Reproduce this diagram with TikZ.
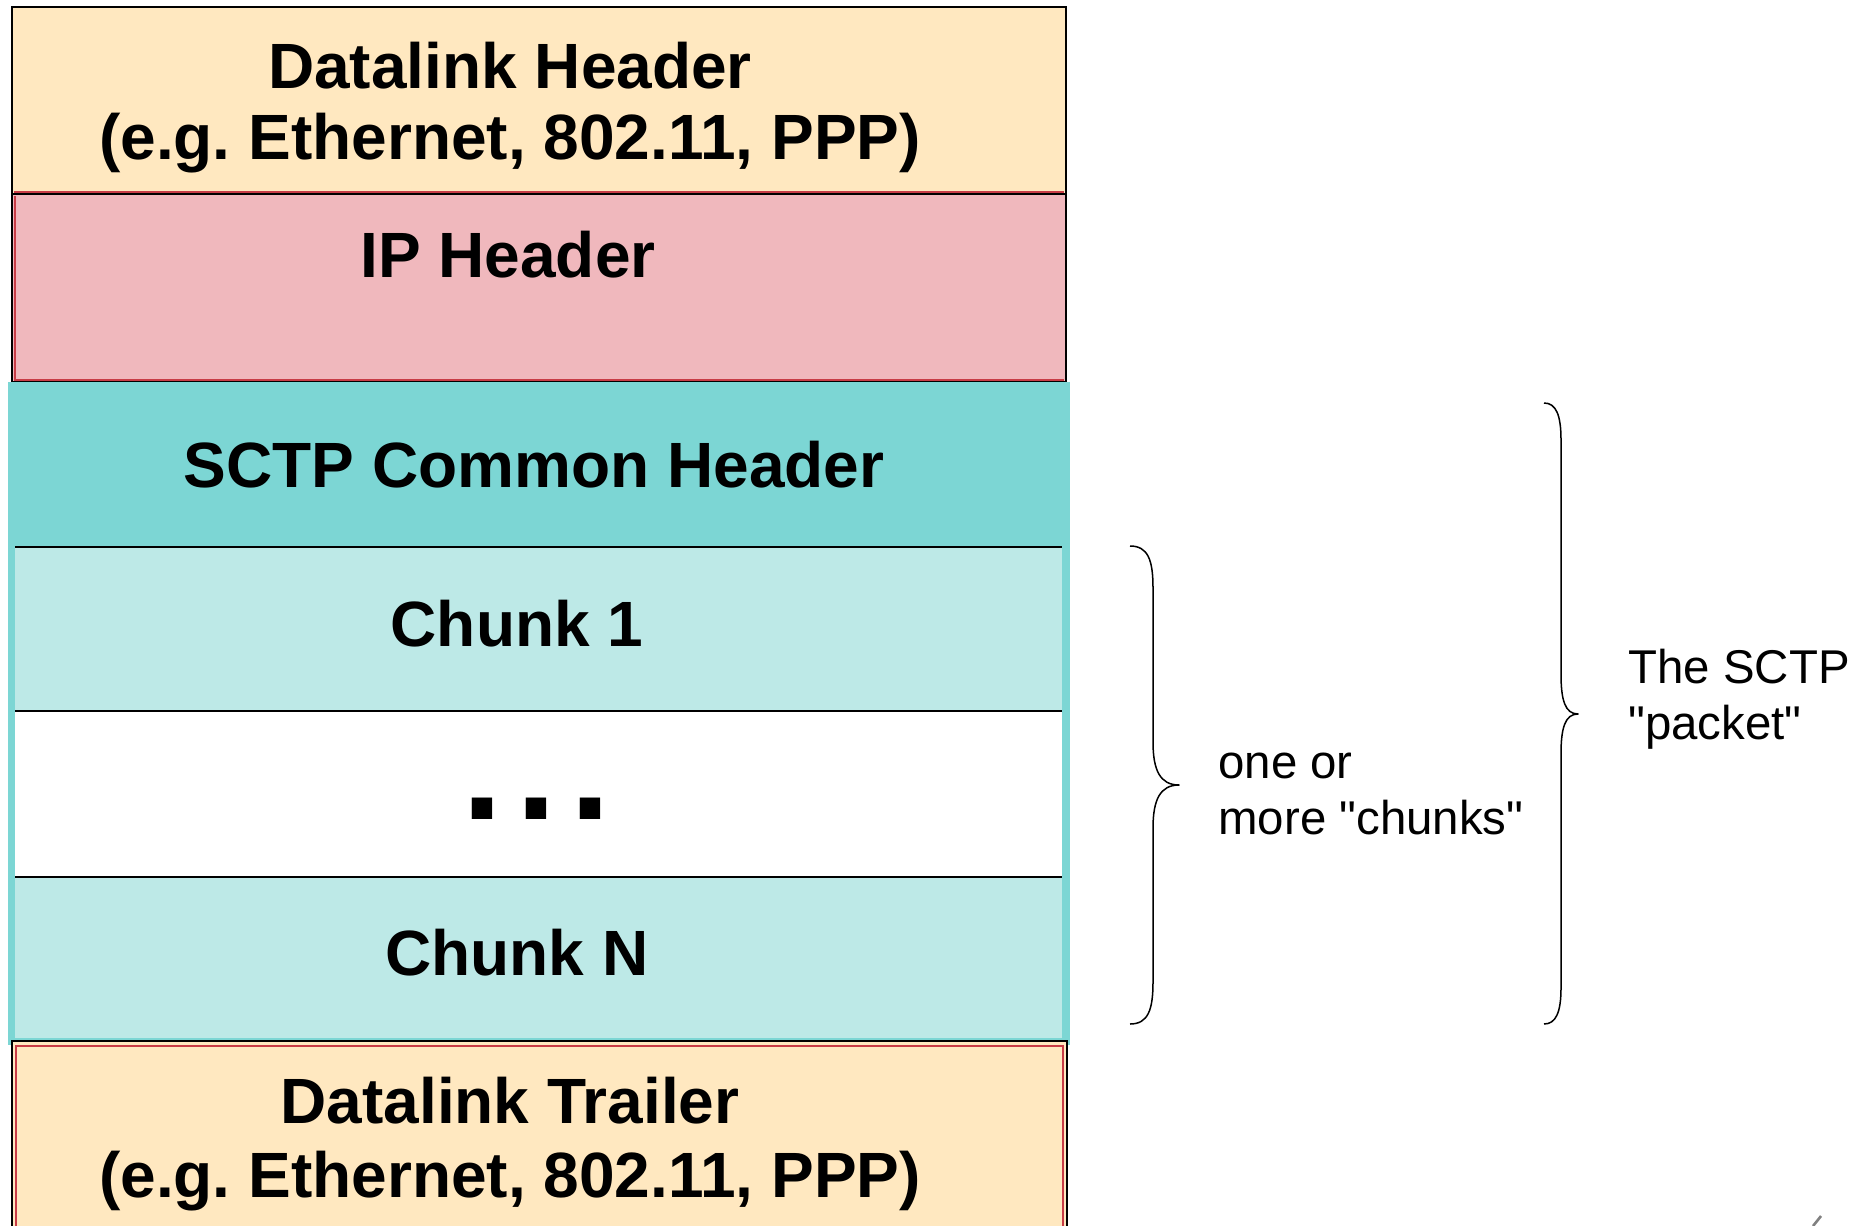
\documentclass[tikz,border=0pt]{standalone}
\usepackage{fontspec}
\setmainfont{Liberation Sans}
\frenchspacing
\definecolor{peach}{HTML}{FFE8C0}
\definecolor{rose}{HTML}{F0B8BD}
\definecolor{teal}{HTML}{7CD6D4}
\definecolor{lightteal}{HTML}{BDE9E7}
\definecolor{edgered}{HTML}{C83C46}
\definecolor{slashgrey}{HTML}{808080}
\begin{document}
\begin{tikzpicture}[x=0.5pt,y=-0.5pt,
  boxline/.style={draw=black,line width=1pt},
  redline/.style={draw=edgered,line width=0.7pt},
  sepline/.style={draw=black,line width=1pt},
  boxtext/.style={font=\fontsize{32pt}{36pt}\selectfont\bfseries,align=center,anchor=base,inner sep=0pt},
  sidetext/.style={font=\fontsize{23.7pt}{28pt}\selectfont,align=left,anchor=base west,inner sep=0pt},
  bracepath/.style={draw=black,line width=0.75pt,line join=round}]
\useasboundingbox (0,0) rectangle (1855,1225);

% Datalink header and IP header
\fill[peach] (12,7) rectangle (1066,194);
\fill[rose] (12,194) rectangle (1066,382);
\draw[redline] (14,192) -- (1064,192);
\draw[redline] (15,196) -- (15,380) -- (1064,380);
\draw[boxline] (12,7) rectangle (1066,382);
\draw[boxline] (12,194) -- (1066,194);

% SCTP packet frame with its chunks
\fill[teal] (8,382) rectangle (1070,1045);
\fill[lightteal] (15,547) rectangle (1062,1038);
\fill[white] (15,711) rectangle (1062,877);
\draw[sepline] (15,547) -- (1062,547);
\draw[sepline] (15,711) -- (1062,711);
\draw[sepline] (15,877) -- (1062,877);

% Datalink trailer
\fill[peach] (12,1041) rectangle (1067,1240);
\draw[redline] (16,1240) -- (16,1046) -- (1063,1046) -- (1063,1240);
\draw[boxline] (12,1240) -- (12,1041) -- (1067,1041) -- (1067,1240);

% Labels inside the boxes (a two-line node sits on its last baseline)
\node[boxtext,font=\fontsize{32pt}{35.5pt}\selectfont\bfseries] (dlh) at (510,160) {Datalink Header\\(e.g. Ethernet, 802.11, PPP)};
\node[boxtext] (iph) at (508,277) {IP Header};
\node[boxtext] (sch) at (534,487) {SCTP Common Header};
\node[boxtext] (ch1) at (517,646) {Chunk 1};
\node[boxtext,font=\fontsize{72pt}{72pt}\selectfont\bfseries] (dots) at (537,819) {.\hspace{7pt}.\hspace{7pt}.};
\node[boxtext] (chn) at (517,975) {Chunk N};
\node[boxtext,font=\fontsize{32pt}{37pt}\selectfont\bfseries] (dlt) at (510,1197) {Datalink Trailer\\(e.g. Ethernet, 802.11, PPP)};

% Brace around the chunks
\coordinate (cbtop) at (1130,546);
\coordinate (cbtip) at (1179,785);
\coordinate (cbbot) at (1130,1024);
\draw[bracepath] (cbtop) .. controls (1148,546) and (1153,560) .. (1153,588)
  -- (1153,742) .. controls (1153,770) and (1160,785) .. (cbtip)
  .. controls (1160,785) and (1153,800) .. (1153,828)
  -- (1153,982) .. controls (1153,1010) and (1148,1024) .. (cbbot);

% Brace around the whole SCTP packet
\coordinate (pbtop) at (1544,403);
\coordinate (pbtip) at (1578,714);
\coordinate (pbbot) at (1544,1024);
\draw[bracepath] (pbtop) .. controls (1556,403) and (1561,415) .. (1561,440)
  -- (1561,674) .. controls (1561,700) and (1565,714) .. (pbtip)
  .. controls (1565,714) and (1561,728) .. (1561,754)
  -- (1561,988) .. controls (1561,1012) and (1556,1024) .. (pbbot);

% Side labels (straight quotation marks)
\node[sidetext] (chunks) at (1218,834) {one or\\more \textquotedbl chunks\textquotedbl};
\node[sidetext] (packet) at (1628,739) {The SCTP\\\textquotedbl packet\textquotedbl};

% Stroke at the lower right corner
\coordinate (slA) at (1813,1226);
\coordinate (slB) at (1821,1216);
\draw[slashgrey,line width=1.3pt] (slA) -- (slB);
\end{tikzpicture}
\end{document}
